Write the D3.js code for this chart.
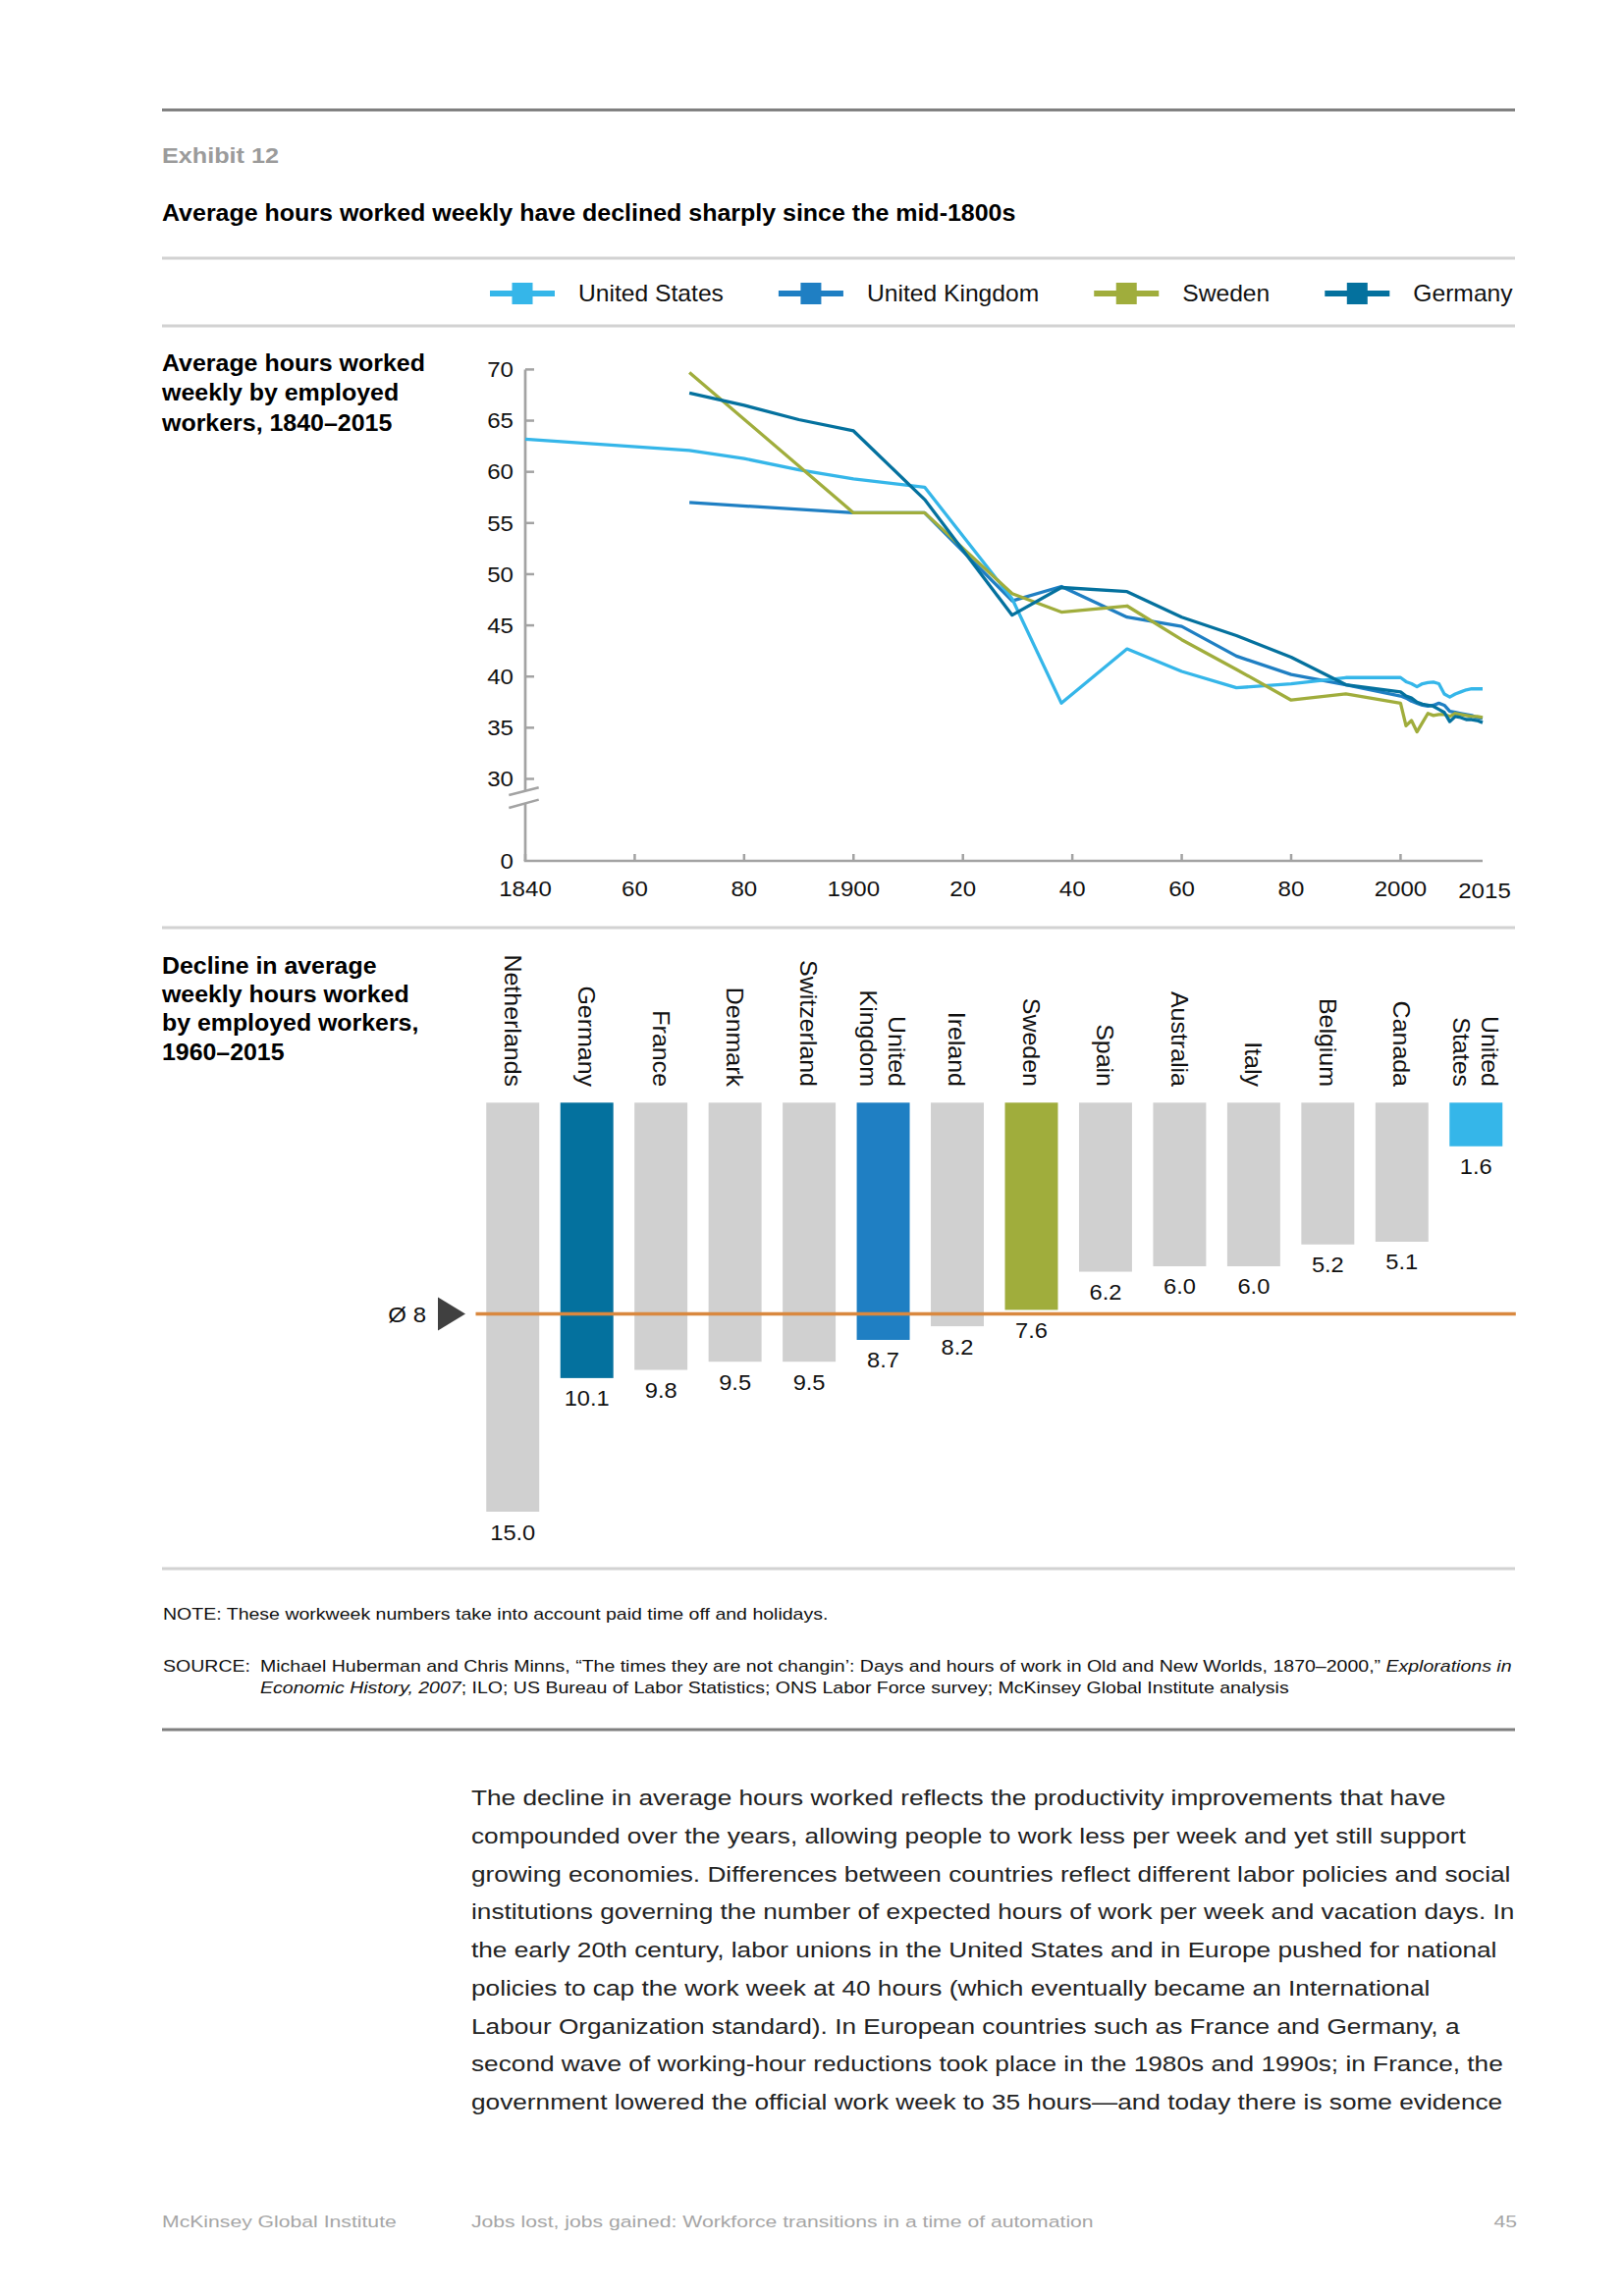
<!DOCTYPE html>
<html><head><meta charset="utf-8">
<script src="https://cdn.jsdelivr.net/npm/d3@7"></script>
<style>html,body{margin:0;padding:0;background:#fff}svg{display:block}</style>
</head><body>
<svg id="page" width="1654" height="2339"></svg>
<script>
// ---------------- DATA ----------------
const seriesNames = ["United States", "United Kingdom", "Sweden", "Germany"];
const seriesColors = ["#35b6e9", "#1f7fc3", "#a0ad3c", "#04719e"];

const usHours = [[1840,63.2],[1870,62.1],[1880,61.3],[1890,60.2],[1900,59.3],[1913,58.5],[1929,47.6],[1938,37.4],[1950,42.7],[1960,40.5],[1970,38.9],[1980,39.3],[1990,39.9],[2000,39.9],[2001,39.5],[2002,39.3],[2003,39.0],[2004,39.3],[2005,39.4],[2006,39.45],[2007,39.3],[2008,38.3],[2009,38.0],[2010,38.3],[2011,38.5],[2012,38.7],[2013,38.8],[2014,38.8],[2015,38.8]];
const ukHours = [[1870,57.0],[1900,56.0],[1913,56.0],[1929,47.4],[1938,48.8],[1950,45.8],[1960,44.9],[1970,42.0],[1980,40.2],[1990,39.2],[2000,38.1],[2001,37.9],[2002,37.6],[2003,37.4],[2004,37.2],[2005,37.1],[2006,37.2],[2007,37.4],[2008,37.2],[2009,36.6],[2010,36.5],[2011,36.4],[2012,36.3],[2013,36.2],[2014,36.0],[2015,35.9]];
const swedenHours = [[1870,69.7],[1900,56.0],[1913,56.0],[1929,48.1],[1938,46.3],[1950,46.9],[1960,43.6],[1970,40.7],[1980,37.7],[1990,38.3],[2000,37.4],[2001,35.2],[2002,35.7],[2003,34.6],[2004,35.5],[2005,36.4],[2006,36.2],[2007,36.3],[2008,36.3],[2009,36.1],[2010,36.4],[2011,36.3],[2012,36.2],[2013,36.1],[2014,36.1],[2015,36.0]];
const germanyHours = [[1870,67.7],[1880,66.5],[1890,65.1],[1900,64.0],[1913,57.3],[1929,46.0],[1938,48.7],[1950,48.3],[1960,45.8],[1970,44.0],[1980,41.9],[1990,39.2],[2000,38.5],[2001,38.1],[2002,37.9],[2003,37.5],[2004,37.3],[2005,37.2],[2006,37.1],[2007,36.8],[2008,36.5],[2009,35.6],[2010,36.1],[2011,36.0],[2012,35.8],[2013,35.8],[2014,35.7],[2015,35.5]];

const yTicks = [30, 35, 40, 45, 50, 55, 60, 65, 70];
const xTicks = [1840, 1860, 1880, 1900, 1920, 1940, 1960, 1980, 2000, 2015];
const xTickLabels = ["1840", "60", "80", "1900", "20", "40", "60", "80", "2000", "2015"];

const countries = ["Netherlands","Germany","France","Denmark","Switzerland","United Kingdom","Ireland","Sweden","Spain","Australia","Italy","Belgium","Canada","United States"];
const declines = [15.0, 10.1, 9.8, 9.5, 9.5, 8.7, 8.2, 7.6, 6.2, 6.0, 6.0, 5.2, 5.1, 1.6];
const barLabels = ["15.0","10.1","9.8","9.5","9.5","8.7","8.2","7.6","6.2","6.0","6.0","5.2","5.1","1.6"];

// ---------------- TEXT CONTENT ----------------
const exhibitLabel = "Exhibit 12";
const titleText = "Average hours worked weekly have declined sharply since the mid-1800s";
const lineChartLabel = ["Average hours worked", "weekly by employed", "workers, 1840–2015"];
const barChartLabel = ["Decline in average", "weekly hours worked", "by employed workers,", "1960–2015"];
const noteText = "NOTE: These workweek numbers take into account paid time off and holidays.";
const sourceLines = [
  [{t:"Michael Huberman and Chris Minns, “The times they are not changin’: Days and hours of work in Old and New Worlds, 1870–2000,” "},{t:"Explorations in", i:true}],
  [{t:"Economic History, 2007", i:true},{t:"; ILO; US Bureau of Labor Statistics; ONS Labor Force survey; McKinsey Global Institute analysis"}]
];
const bodyLines = [
  "The decline in average hours worked reflects the productivity improvements that have",
  "compounded over the years, allowing people to work less per week and yet still support",
  "growing economies. Differences between countries reflect different labor policies and social",
  "institutions governing the number of expected hours of work per week and vacation days. In",
  "the early 20th century, labor unions in the United States and in Europe pushed for national",
  "policies to cap the work week at 40 hours (which eventually became an International",
  "Labour Organization standard). In European countries such as France and Germany, a",
  "second wave of working-hour reductions took place in the 1980s and 1990s; in France, the",
  "government lowered the official work week to 35 hours—and today there is some evidence"
];
const footer = ["McKinsey Global Institute", "Jobs lost, jobs gained: Workforce transitions in a time of automation", "45"];

// ---------------- HELPERS ----------------
const FONT = "'Liberation Sans', Arial, Helvetica, sans-serif";
const svg = d3.select("#page");
svg.append("rect").attr("width",1654).attr("height",2339).attr("fill","#fff");

function makeText(parent, content, o) {
  const t = parent.append("text")
    .attr("font-family", FONT)
    .attr("font-size", o.size)
    .attr("font-weight", o.weight || "normal")
    .attr("fill", o.fill || "#111")
    .attr("text-anchor", o.anchor || "start");
  if (typeof content === "string") t.text(content);
  else content.forEach(s => t.append("tspan").attr("font-style", s.i ? "italic" : null).text(s.t));
  return t;
}
function place(t, x, y, k, rot) {
  t.attr("transform", `translate(${x},${y})` + (rot ? ` rotate(${rot})` : "") + ` scale(${k},1)`);
  return t;
}
function natural(t) { return t.node().getComputedTextLength(); }
function rule(y, color, w) {
  svg.append("line").attr("x1",165).attr("x2",1543).attr("y1",y).attr("y2",y)
    .attr("stroke",color).attr("stroke-width",w);
}

// ---------------- HEADER ----------------
rule(112, "#7f7f7f", 3);
{
  const t = makeText(svg, exhibitLabel, {size:22, weight:"bold", fill:"#9b9b9b"});
  place(t, 165, 166, 119 / natural(t));
  const tt = makeText(svg, titleText, {size:23, weight:"bold", fill:"#000"});
  place(tt, 165, 225, 870 / natural(tt));
}
rule(263, "#d2d2d2", 3);

// Legend
{
  const g = svg.append("g");
  let x = 499;
  const cy = 299;
  let kLeg = null;
  seriesNames.forEach((name, i) => {
    g.append("line").attr("x1", x).attr("x2", x + 66).attr("y1", cy).attr("y2", cy)
      .attr("stroke", seriesColors[i]).attr("stroke-width", 6);
    g.append("rect").attr("x", x + 33 - 10.5).attr("y", cy - 11).attr("width", 21).attr("height", 22)
      .attr("fill", seriesColors[i]);
    const t = makeText(g, name, {size:23, fill:"#111"});
    if (kLeg === null) kLeg = 148 / natural(t);
    place(t, x + 90, cy + 8, kLeg);
    x = x + 90 + natural(t) * kLeg + 56;
  });
}
rule(332, "#d2d2d2", 3);

// ---------------- LINE CHART ----------------
{
  const g = svg.append("g");
  const lbl = lineChartLabel.map(s => makeText(g, s, {size:23, weight:"bold", fill:"#000"}));
  const kL = 268 / natural(lbl[0]);
  lbl.forEach((t, i) => place(t, 165, 378 + i * 30.3, kL));

  const x = d3.scaleLinear().domain([1840, 2015]).range([535, 1510]);
  const y = d3.scaleLinear().domain([0, 30, 70]).range([877, 793.5, 376.4]);
  const axisColor = "#a3a3a3";

  // y axis (broken)
  g.append("line").attr("x1", x(1840)).attr("x2", x(1840)).attr("y1", y(70)).attr("y2", 806)
    .attr("stroke", axisColor).attr("stroke-width", 2.7);
  g.append("line").attr("x1", x(1840)).attr("x2", x(1840)).attr("y1", 818).attr("y2", y(0))
    .attr("stroke", axisColor).attr("stroke-width", 2.7);
  [[810, 802.3], [823, 814.6]].forEach(([a, b]) => {
    g.append("line").attr("x1", 518.3).attr("y1", a).attr("x2", 548.7).attr("y2", b)
      .attr("stroke", axisColor).attr("stroke-width", 2.5);
  });
  yTicks.forEach(v => {
    g.append("line").attr("x1", x(1840)).attr("x2", x(1840) + 9).attr("y1", y(v)).attr("y2", y(v))
      .attr("stroke", axisColor).attr("stroke-width", 2.5);
    const t = makeText(g, String(v), {size:21.5, anchor:"end", fill:"#111"});
    place(t, 523, y(v) + 7.7, 1.12);
  });
  {
    const t = makeText(g, "0", {size:21.5, anchor:"end", fill:"#111"});
    place(t, 523, y(0) + 7.7, 1.12);
  }
  // x axis
  g.append("line").attr("x1", x(1840) - 1.3).attr("x2", x(2015)).attr("y1", y(0)).attr("y2", y(0))
    .attr("stroke", axisColor).attr("stroke-width", 2.7);
  xTicks.forEach((yr, i) => {
    if (yr !== 2015) {
      g.append("line").attr("x1", x(yr)).attr("x2", x(yr)).attr("y1", y(0)).attr("y2", y(0) - 7)
        .attr("stroke", axisColor).attr("stroke-width", 2.5);
    }
    const t = makeText(g, xTickLabels[i], {size:21.5, anchor:"middle", fill:"#111"});
    place(t, x(yr) + (yr === 2015 ? 2 : 0), 913 + (yr === 2015 ? 1.5 : 0), 1.12);
  });

  const line = d3.line().x(d => x(d[0])).y(d => y(d[1]));
  const drawOrder = [
    [ukHours, 1], [usHours, 0], [swedenHours, 2], [germanyHours, 3]
  ];
  drawOrder.forEach(([data, ci]) => {
    g.append("path").datum(data).attr("d", line).attr("fill", "none")
      .attr("stroke", seriesColors[ci]).attr("stroke-width", 3.3)
      .attr("stroke-linejoin", "round").attr("stroke-linecap", "butt");
  });
}

rule(945, "#d2d2d2", 3);

// ---------------- BAR CHART ----------------
{
  const g = svg.append("g");
  const lbl = barChartLabel.map(s => makeText(g, s, {size:23, weight:"bold", fill:"#000"}));
  const kL = 218.6 / natural(lbl[0]);
  lbl.forEach((t, i) => place(t, 165, 991.7 + i * 29.3, kL));

  const xb = d3.scaleBand().domain(countries).range([484.5, 1541]).paddingInner(0.285).paddingOuter(0.1425);
  const yb = d3.scaleLinear().domain([0, 15]).range([1123.3, 1540]);
  const highlight = {"Germany": seriesColors[3], "United Kingdom": seriesColors[1], "Sweden": seriesColors[2], "United States": seriesColors[0]};

  g.selectAll("rect.bar").data(countries).join("rect").attr("class", "bar")
    .attr("x", d => xb(d)).attr("width", xb.bandwidth())
    .attr("y", yb(0)).attr("height", (d, i) => yb(declines[i]) - yb(0))
    .attr("fill", d => highlight[d] || "#d0d0d0");

  countries.forEach((c, i) => {
    const cx = xb(c) + xb.bandwidth() / 2;
    const t = makeText(g, barLabels[i], {size:21.5, anchor:"middle", fill:"#111"});
    place(t, cx, yb(declines[i]) + 28.5, 1.1);
    const parts = c.split(" ");
    const n = parts.length;
    parts.forEach((p, j) => {
      const off = (n - 1) / 2 * 29 - j * 29; // first line to the right
      const lt = makeText(g, p, {size:24, anchor:"end", fill:"#111"});
      place(lt, cx + off - 8.6, 1107, 1.04, 90);
    });
  });

  // average line
  const avg = d3.mean(declines);
  const ya = yb(avg);
  g.append("line").attr("x1", 484.5).attr("x2", 1543.8).attr("y1", ya).attr("y2", ya)
    .attr("stroke", "#d9883f").attr("stroke-width", 3.5);
  g.append("path").attr("d", `M446,${ya - 17}L446,${ya + 17}L474,${ya}Z`).attr("fill", "#404040");
  const at = makeText(g, "Ø " + d3.format(".0f")(avg), {size:22, anchor:"end", fill:"#111"});
  place(at, 434, ya + 8.5, 1.09);
}

rule(1598, "#d2d2d2", 3);

// ---------------- NOTES ----------------
{
  const g = svg.append("g");
  const nt = makeText(g, noteText, {size:17, fill:"#111"});
  const kN = 678 / natural(nt);
  place(nt, 166, 1650, kN);
  const st = makeText(g, "SOURCE:", {size:17, fill:"#111"});
  place(st, 166, 1703, kN);
  sourceLines.forEach((segs, i) => {
    const t = makeText(g, segs, {size:17, fill:"#111"});
    place(t, 265, 1703 + i * 22, kN);
  });
}
rule(1762, "#7f7f7f", 3);

// ---------------- BODY TEXT ----------------
{
  const g = svg.append("g");
  const ts = bodyLines.map(s => makeText(g, s, {size:21.5, fill:"#222"}));
  const kB = 1059 / natural(ts[2]);
  ts.forEach((t, i) => place(t, 480, 1839 + i * 38.75, kB));
}

// ---------------- FOOTER ----------------
{
  const g = svg.append("g");
  const f0 = makeText(g, footer[0], {size:16.5, fill:"#a6a6a6"});
  const kF = 239 / natural(f0);
  place(f0, 165, 2269, kF);
  place(makeText(g, footer[1], {size:16.5, fill:"#a6a6a6"}), 480, 2269, kF);
  place(makeText(g, footer[2], {size:16.5, fill:"#a6a6a6", anchor:"end"}), 1545, 2269, kF);
}
</script>
</body></html>
